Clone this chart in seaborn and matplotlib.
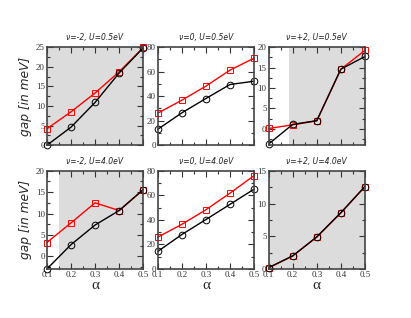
import numpy as np
import matplotlib
matplotlib.use('Agg')
import matplotlib.pyplot as plt
import seaborn as sns
from matplotlib.ticker import MultipleLocator

# data
alpha = [0.1, 0.2, 0.3, 0.4, 0.5]

titles = ['ν=-2, U=0.5eV', 'ν=0, U=0.5eV', 'ν=+2, U=0.5eV',
          'ν=-2, U=4.0eV', 'ν=0, U=4.0eV', 'ν=+2, U=4.0eV']

black_1 = [0.0, 4.6, 10.9, 18.4, 24.8]
red_1 = [4.2, 8.5, 13.3, 18.7, 24.9]
black_2 = [13.0, 26.4, 38.1, 49.5, 52.2]
red_2 = [26.1, 36.7, 48.2, 61.2, 71.0]
black_3 = [-3.7, 1.1, 2.0, 14.6, 17.7]
red_3 = [0.1, 1.0, 2.0, 14.6, 19.2]
black_4 = [-3.0, 2.7, 7.3, 10.7, 15.6]
red_4 = [3.2, 7.8, 12.5, 10.7, 15.6]
black_5 = [14.3, 28.1, 40.3, 52.7, 65.1]
red_5 = [25.9, 36.4, 48.3, 61.8, 76.1]
black_6 = [0.2, 2.0, 4.9, 8.6, 12.6]
red_6 = [0.2, 2.0, 4.9, 8.6, 12.6]

blacks = [black_1, black_2, black_3, black_4, black_5, black_6]
reds = [red_1, red_2, red_3, red_4, red_5, red_6]

# start of grey shaded region (None = no shading)
shade_from = [0.1, None, 0.183, 0.15, None, 0.1]
ylims = [(0, 25), (0, 80), (-4, 20), (-3, 20), (0, 80), (0, 15)]
ysteps = [5, 20, 5, 5, 20, 5]

sns.set_style('ticks')
plt.rcParams['font.family'] = ['Liberation Serif', 'DejaVu Serif']

fig, axes = plt.subplots(2, 3, figsize=(4.11, 3.18), dpi=100)
fig.subplots_adjust(left=0.114, right=0.888, top=0.852, bottom=0.154,
                    wspace=0.15, hspace=0.26)

for i, ax in enumerate(axes.flat):
    if shade_from[i] is not None:
        ax.axvspan(shade_from[i], 0.5, color='#dcdcdc', zorder=0, lw=0)
    sns.lineplot(x=alpha, y=reds[i], ax=ax, color='red', lw=1.0,
                 marker='s', markersize=4.2, markerfacecolor='none',
                 markeredgecolor='red', markeredgewidth=0.7, clip_on=False)
    sns.lineplot(x=alpha, y=blacks[i], ax=ax, color='black', lw=1.0,
                 marker='o', markersize=4.8, markerfacecolor='none',
                 markeredgecolor='black', markeredgewidth=0.7, clip_on=False)
    ax.set_xlim(0.1, 0.5)
    ax.set_ylim(*ylims[i])
    ax.xaxis.set_major_locator(MultipleLocator(0.1))
    ax.xaxis.set_minor_locator(MultipleLocator(0.05))
    ax.yaxis.set_major_locator(MultipleLocator(ysteps[i]))
    ax.yaxis.set_minor_locator(MultipleLocator(ysteps[i] / 2))
    ax.tick_params(which='both', direction='in', top=True, right=True,
                   labelsize=6.5, pad=1.5, width=0.8, colors='#333333',
                   labelcolor='#333333')
    ax.tick_params(which='major', length=4)
    ax.tick_params(which='minor', length=2)
    for s in ax.spines.values():
        s.set_linewidth(1.2)
        s.set_color('#444444')
    ax.set_title(titles[i], fontsize=5.5, style='italic', pad=5,
                 family='DejaVu Sans', color='#222222')
    ax.set_xlabel('')
    ax.set_ylabel('')
    if i < 3:
        ax.set_xticklabels([])
    else:
        ax.set_xlabel('α', fontsize=11, labelpad=0)
    if i % 3 == 0:
        ax.set_ylabel('gap [in meV]', fontsize=8.8, style='italic',
                      family='DejaVu Sans', labelpad=3)

fig.savefig('out.png', dpi=100)
